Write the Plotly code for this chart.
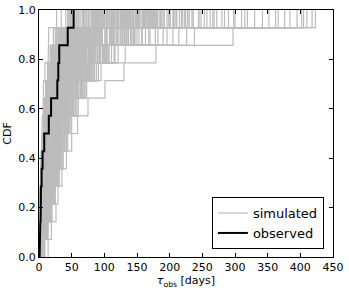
import plotly.graph_objects as go

# Observed durations (days), 14 events
observed = [1, 2, 2.5, 3, 4, 5.5, 8, 15, 18.5, 28, 29.5, 31, 44, 53]

# Simulated realizations (days), 14 events each
simulated = [
    [0, 1, 2, 3, 4, 4, 5, 7, 8, 10, 13, 17, 22, 34],
    [1, 1, 2, 3, 4, 5, 6, 8, 10, 12, 15, 20, 27, 45],
    [0, 1, 2, 4, 5, 6, 7, 9, 11, 14, 17, 23, 31, 52],
    [1, 2, 3, 4, 5, 7, 8, 10, 12, 16, 20, 26, 35, 61],
    [0, 1, 3, 4, 6, 7, 9, 11, 14, 17, 22, 29, 40, 72],
    [1, 2, 3, 5, 6, 8, 9, 11, 13, 16, 21, 27, 36, 58],
    [1, 2, 3, 5, 6, 8, 10, 12, 15, 19, 24, 31, 44, 80],
    [0, 2, 4, 5, 7, 9, 11, 13, 16, 21, 27, 35, 49, 88],
    [1, 3, 4, 6, 8, 9, 11, 14, 17, 22, 29, 38, 55, 110],
    [1, 2, 4, 6, 8, 10, 12, 15, 18, 23, 29, 38, 52, 94],
    [2, 3, 4, 6, 8, 11, 13, 16, 20, 25, 31, 41, 57, 99],
    [0, 2, 3, 5, 7, 10, 12, 15, 19, 24, 32, 44, 66, 140],
    [1, 3, 5, 7, 9, 11, 14, 17, 21, 27, 34, 45, 61, 108],
    [2, 3, 5, 7, 9, 12, 15, 18, 22, 28, 36, 48, 66, 118],
    [1, 2, 4, 6, 8, 11, 14, 17, 21, 28, 37, 51, 78, 166],
    [2, 4, 5, 8, 10, 13, 16, 19, 24, 30, 38, 50, 70, 125],
    [1, 3, 5, 7, 10, 13, 16, 20, 25, 32, 41, 55, 77, 131],
    [3, 4, 6, 8, 10, 13, 17, 21, 26, 33, 42, 58, 88, 210],
    [2, 4, 6, 8, 11, 14, 17, 21, 26, 33, 43, 57, 80, 142],
    [1, 3, 5, 8, 11, 14, 18, 22, 28, 35, 45, 60, 84, 150],
    [2, 3, 6, 9, 12, 15, 18, 22, 27, 34, 44, 61, 95, 245],
    [3, 4, 7, 9, 12, 15, 19, 23, 29, 37, 47, 63, 88, 158],
    [2, 5, 7, 10, 13, 16, 20, 24, 30, 38, 49, 66, 92, 163],
    [1, 4, 6, 9, 12, 16, 20, 25, 32, 41, 53, 71, 104, 196],
    [3, 5, 8, 10, 14, 17, 22, 26, 33, 42, 54, 72, 101, 175],
    [2, 5, 8, 11, 15, 18, 23, 28, 35, 44, 57, 77, 108, 182],
    [4, 6, 9, 12, 15, 19, 24, 29, 36, 46, 60, 82, 120, 290],
    [3, 5, 8, 12, 16, 20, 25, 30, 37, 47, 61, 82, 115, 190],
    [2, 6, 9, 13, 17, 21, 26, 31, 39, 50, 64, 86, 125, 220],
    [4, 7, 10, 14, 18, 22, 27, 33, 41, 52, 67, 90, 131, 236],
    [3, 6, 10, 14, 19, 24, 29, 35, 44, 56, 72, 97, 142, 268],
    [5, 8, 12, 16, 21, 26, 31, 37, 46, 59, 77, 104, 150, 310],
    [4, 9, 13, 17, 22, 27, 33, 40, 50, 64, 84, 116, 178, 362],
    [6, 10, 14, 18, 23, 29, 35, 42, 52, 67, 88, 121, 190, 395],
    [5, 9, 15, 20, 25, 31, 37, 45, 56, 72, 95, 132, 205, 423],
    [14, 19, 26, 29, 35, 42, 50, 59, 75, 101, 130, 179, 297, 405],
    [0, 0, 1, 1, 2, 3, 4, 5, 6, 7, 9, 14, 15, 27],
    [0, 1, 2, 3, 4, 5, 7, 8, 10, 13, 17, 24, 38, 85],
    [1, 2, 3, 4, 5, 6, 8, 10, 12, 15, 19, 25, 34, 57],
    [0, 1, 2, 3, 5, 6, 8, 10, 13, 17, 23, 33, 54, 128],
    [1, 2, 3, 4, 6, 7, 9, 11, 14, 18, 24, 34, 58, 173],
    [0, 2, 3, 4, 5, 7, 8, 10, 12, 15, 19, 26, 37, 66],
    [1, 2, 4, 5, 6, 8, 10, 12, 15, 19, 25, 33, 47, 86],
    [2, 3, 4, 5, 7, 9, 11, 13, 16, 20, 26, 35, 50, 92],
    [0, 1, 3, 4, 6, 8, 10, 12, 15, 20, 27, 39, 65, 201],
    [1, 2, 3, 5, 7, 9, 11, 14, 17, 22, 28, 37, 51, 90],
    [1, 3, 4, 6, 7, 9, 12, 14, 18, 23, 30, 41, 60, 113],
    [0, 2, 3, 5, 7, 9, 11, 13, 17, 22, 29, 40, 61, 137],
    [2, 3, 5, 6, 8, 10, 12, 15, 19, 24, 31, 41, 57, 96],
    [1, 2, 4, 6, 8, 10, 12, 15, 19, 25, 33, 46, 72, 188],
    [2, 4, 5, 7, 9, 12, 14, 18, 22, 28, 36, 48, 68, 122],
    [1, 3, 5, 7, 9, 11, 14, 17, 21, 27, 35, 47, 70, 148],
    [3, 4, 6, 8, 10, 13, 16, 19, 24, 30, 39, 52, 73, 133],
    [0, 2, 4, 6, 8, 11, 14, 17, 22, 28, 37, 51, 79, 215],
    [2, 4, 6, 8, 11, 13, 16, 20, 25, 31, 40, 53, 74, 129],
    [1, 3, 5, 8, 10, 13, 16, 20, 25, 32, 42, 57, 85, 176],
    [3, 5, 7, 9, 12, 15, 18, 22, 28, 35, 45, 59, 83, 145],
    [2, 4, 6, 9, 12, 15, 19, 23, 29, 37, 49, 67, 103, 262],
    [1, 4, 6, 8, 11, 14, 17, 21, 27, 34, 44, 59, 86, 160],
    [3, 5, 8, 10, 13, 16, 20, 25, 31, 39, 50, 67, 94, 169],
    [2, 5, 7, 10, 13, 17, 21, 26, 33, 42, 55, 75, 112, 228],
    [4, 6, 8, 11, 14, 17, 21, 26, 32, 40, 51, 68, 95, 167],
    [3, 6, 9, 12, 15, 19, 23, 28, 35, 44, 57, 77, 110, 199],
    [2, 5, 8, 11, 15, 19, 24, 29, 36, 46, 60, 81, 118, 257],
    [4, 7, 10, 13, 16, 20, 25, 30, 37, 47, 60, 79, 109, 180],
    [5, 7, 10, 13, 17, 21, 26, 31, 39, 49, 63, 84, 119, 206],
    [3, 6, 10, 14, 18, 22, 27, 33, 41, 52, 68, 92, 136, 248],
    [4, 8, 11, 15, 19, 23, 28, 34, 42, 53, 69, 93, 133, 224],
    [6, 9, 12, 16, 20, 25, 30, 36, 45, 57, 74, 100, 146, 280],
    [5, 9, 13, 17, 22, 27, 32, 39, 48, 61, 79, 107, 157, 330],
    [0, 1, 2, 3, 4, 5, 6, 7, 9, 11, 14, 19, 27, 48],
    [0, 1, 1, 2, 3, 4, 5, 7, 9, 11, 14, 18, 25, 41],
    [1, 1, 2, 3, 4, 5, 6, 8, 10, 12, 16, 21, 30, 53],
    [0, 1, 2, 3, 4, 6, 7, 9, 11, 14, 18, 23, 32, 55],
    [1, 2, 3, 4, 5, 7, 8, 10, 13, 16, 21, 28, 40, 75],
    [0, 1, 2, 4, 5, 6, 8, 10, 12, 15, 20, 27, 41, 98],
    [1, 2, 3, 4, 6, 7, 9, 12, 15, 19, 26, 37, 62, 154],
    [0, 1, 2, 3, 4, 6, 7, 9, 12, 16, 22, 32, 56, 186],
    [2, 3, 4, 5, 7, 8, 10, 12, 15, 19, 24, 31, 42, 70],
    [1, 2, 3, 5, 6, 8, 10, 12, 15, 18, 23, 30, 41, 68],
    [0, 2, 3, 4, 6, 8, 10, 13, 16, 21, 28, 39, 59, 127],
    [2, 3, 5, 7, 9, 11, 13, 16, 20, 25, 33, 45, 67, 152],
    [1, 3, 4, 6, 8, 11, 13, 16, 20, 26, 34, 46, 69, 139],
    [3, 5, 7, 9, 11, 14, 17, 21, 26, 32, 41, 54, 76, 134],
    [2, 4, 6, 8, 11, 14, 17, 21, 26, 33, 43, 59, 92, 236],
    [4, 6, 9, 12, 15, 18, 22, 27, 34, 43, 56, 76, 114, 272],
    [3, 6, 9, 12, 16, 20, 25, 30, 38, 48, 62, 84, 124, 208],
    [5, 8, 12, 16, 20, 24, 29, 35, 43, 55, 72, 98, 145, 300],
    [4, 7, 11, 15, 19, 24, 29, 36, 45, 58, 76, 104, 158, 352],
    [6, 10, 14, 18, 23, 28, 34, 41, 51, 65, 85, 116, 170, 230],
    [1, 2, 3, 4, 6, 7, 9, 11, 13, 17, 21, 28, 39, 63],
    [0, 1, 3, 4, 5, 7, 9, 11, 14, 18, 23, 31, 45, 83],
    [1, 2, 4, 5, 7, 9, 11, 13, 16, 20, 26, 34, 48, 91],
    [2, 3, 4, 6, 7, 9, 11, 14, 17, 21, 27, 36, 51, 105],
    [1, 2, 3, 5, 7, 8, 10, 13, 16, 20, 26, 35, 50, 116],
    [0, 2, 3, 5, 6, 8, 10, 12, 15, 19, 24, 32, 46, 101],
    [1, 3, 4, 6, 8, 10, 12, 15, 18, 23, 30, 40, 56, 107],
    [2, 3, 5, 7, 9, 11, 13, 16, 20, 25, 32, 43, 62, 120],
    [1, 2, 4, 6, 8, 10, 13, 16, 20, 26, 34, 45, 64, 126],
    [2, 4, 5, 7, 9, 12, 15, 18, 22, 27, 35, 46, 64, 112],
    [1, 3, 5, 7, 9, 12, 15, 18, 23, 29, 37, 50, 71, 135],
    [3, 4, 6, 8, 10, 12, 15, 18, 22, 28, 36, 48, 69, 143],
    [2, 4, 6, 8, 10, 13, 16, 20, 25, 31, 40, 54, 76, 147],
    [1, 3, 5, 7, 10, 13, 16, 19, 24, 31, 40, 53, 74, 151],
    [3, 5, 7, 9, 11, 14, 17, 21, 26, 33, 42, 56, 79, 156],
    [2, 4, 6, 9, 11, 14, 18, 22, 27, 34, 44, 58, 81, 161],
    [3, 5, 7, 10, 13, 16, 19, 23, 29, 36, 46, 62, 87, 164],
    [2, 5, 7, 10, 13, 16, 20, 24, 29, 37, 48, 64, 90, 171],
    [4, 6, 8, 10, 13, 16, 20, 24, 30, 38, 49, 65, 91, 174],
    [3, 5, 8, 11, 14, 17, 21, 25, 31, 39, 50, 66, 93, 178],
    [1, 2, 3, 4, 5, 6, 8, 9, 11, 14, 18, 24, 33, 50],
    [0, 1, 2, 3, 4, 6, 7, 8, 10, 13, 16, 21, 29, 44],
    [1, 2, 3, 4, 5, 7, 8, 10, 12, 14, 18, 23, 31, 47],
    [0, 1, 2, 4, 5, 6, 8, 9, 11, 14, 18, 24, 34, 60],
    [1, 2, 3, 4, 6, 7, 9, 10, 13, 16, 20, 27, 38, 67],
    [1, 2, 4, 5, 6, 8, 10, 12, 14, 18, 23, 30, 42, 73],
    [0, 2, 3, 4, 6, 7, 9, 11, 14, 17, 22, 29, 41, 76],
    [1, 2, 3, 5, 6, 8, 10, 12, 15, 18, 23, 31, 43, 78],
    [2, 3, 4, 6, 7, 9, 11, 13, 16, 20, 26, 34, 48, 84],
    [1, 2, 4, 5, 7, 9, 11, 13, 16, 21, 27, 36, 52, 87],
    [2, 3, 5, 6, 8, 10, 12, 14, 18, 22, 28, 38, 54, 93],
    [1, 3, 4, 6, 8, 10, 12, 15, 19, 24, 31, 42, 60, 100],
    [2, 4, 5, 7, 9, 11, 13, 16, 20, 25, 32, 43, 61, 103],
    [3, 4, 6, 8, 10, 12, 14, 17, 21, 26, 33, 44, 63, 114],
    [2, 4, 6, 8, 10, 13, 16, 19, 23, 29, 37, 49, 68, 119],
    [4, 5, 7, 9, 11, 14, 17, 20, 25, 31, 40, 53, 73, 130],
    [3, 5, 7, 9, 12, 15, 18, 22, 27, 34, 43, 57, 80, 136],
    [4, 6, 8, 11, 14, 17, 20, 24, 30, 37, 47, 62, 85, 144],
    [2, 3, 5, 7, 9, 11, 14, 17, 21, 27, 35, 47, 66, 153],
    [5, 7, 9, 12, 15, 18, 22, 27, 33, 41, 52, 69, 96, 185],
    [3, 5, 7, 10, 13, 16, 19, 23, 28, 36, 45, 58, 80, 121],
    [2, 5, 8, 11, 14, 17, 20, 25, 31, 38, 47, 59, 81, 128],
    [4, 6, 8, 12, 15, 18, 23, 27, 32, 38, 49, 63, 90, 133],
    [3, 6, 9, 11, 14, 19, 22, 26, 34, 41, 51, 66, 87, 138],
    [4, 7, 10, 13, 17, 20, 24, 29, 35, 43, 52, 68, 95, 144],
    [3, 6, 10, 14, 16, 21, 26, 30, 36, 44, 55, 71, 97, 149],
    [5, 7, 11, 13, 18, 22, 25, 31, 37, 46, 57, 73, 101, 153],
    [4, 8, 10, 15, 18, 23, 27, 32, 38, 47, 59, 76, 104, 159],
    [5, 8, 12, 15, 20, 23, 28, 33, 40, 50, 61, 78, 108, 162],
    [4, 9, 12, 16, 19, 24, 29, 34, 42, 50, 63, 81, 111, 168],
    [6, 8, 13, 17, 21, 25, 30, 36, 43, 52, 65, 84, 115, 172],
    [5, 9, 13, 16, 22, 26, 31, 36, 45, 55, 67, 87, 119, 177],
    [6, 10, 14, 18, 22, 27, 32, 38, 46, 56, 69, 89, 121, 181],
    [5, 10, 15, 19, 23, 28, 33, 39, 47, 58, 71, 92, 127, 186],
    [7, 10, 14, 20, 24, 29, 35, 40, 49, 59, 73, 94, 130, 192],
    [6, 11, 16, 19, 25, 30, 35, 42, 50, 61, 75, 97, 134, 199],
    [7, 11, 15, 21, 26, 31, 37, 43, 52, 64, 77, 99, 137, 205],
    [6, 12, 17, 22, 27, 32, 38, 44, 53, 65, 80, 102, 140, 211],
    [8, 12, 16, 21, 28, 33, 39, 46, 55, 67, 82, 104, 144, 218],
    [7, 13, 18, 23, 28, 34, 40, 47, 56, 69, 85, 107, 147, 223],
    [9, 13, 19, 24, 30, 36, 42, 49, 58, 70, 88, 111, 153, 234],
    [8, 14, 20, 25, 31, 37, 44, 50, 60, 73, 91, 115, 163, 244],
    [2, 3, 5, 7, 8, 10, 13, 15, 18, 23, 28, 37, 49, 82],
    [2, 4, 5, 7, 9, 12, 14, 17, 21, 25, 32, 41, 56, 89],
    [3, 4, 6, 8, 10, 13, 15, 18, 23, 28, 35, 45, 61, 97],
    [3, 4, 7, 9, 11, 14, 17, 20, 25, 30, 37, 49, 66, 104],
    [3, 5, 7, 9, 12, 15, 18, 22, 26, 33, 41, 53, 72, 111],
    [4, 5, 8, 10, 13, 16, 19, 23, 28, 35, 43, 56, 75, 116],
    [2, 5, 7, 10, 12, 15, 19, 23, 29, 36, 45, 59, 79, 124],
    [4, 6, 8, 11, 14, 17, 21, 25, 30, 37, 47, 61, 84, 132],
    [2, 4, 6, 8, 11, 14, 17, 21, 26, 33, 43, 57, 85, 315],
    [1, 3, 5, 7, 9, 12, 15, 19, 24, 30, 39, 52, 76, 284],
    [3, 5, 7, 10, 13, 16, 20, 25, 31, 39, 50, 66, 168, 342],
    [2, 4, 7, 9, 12, 15, 19, 23, 29, 36, 47, 62, 96, 376],
    [1, 3, 4, 6, 9, 11, 14, 18, 23, 29, 38, 50, 74, 253],
    [4, 6, 9, 12, 15, 19, 23, 28, 34, 43, 55, 73, 182, 410],
    [2, 5, 7, 10, 13, 16, 20, 24, 30, 38, 49, 65, 214, 298],
    [3, 5, 8, 11, 14, 18, 22, 27, 33, 41, 53, 70, 112, 366],
    [1, 2, 4, 6, 8, 10, 13, 16, 20, 26, 34, 46, 70, 227],
    [3, 6, 8, 11, 15, 18, 23, 28, 34, 42, 54, 71, 238, 402],
    [2, 4, 6, 9, 11, 14, 18, 22, 27, 35, 45, 60, 92, 319],
    [4, 7, 10, 13, 17, 21, 25, 31, 38, 48, 61, 80, 196, 384],
    [1, 3, 5, 7, 10, 12, 16, 19, 24, 31, 40, 54, 128, 266],
    [2, 5, 8, 11, 14, 17, 21, 26, 32, 40, 52, 69, 226, 418],
]

x_ticks = [0, 50, 100, 150, 200, 250, 300, 350, 400, 450]
y_ticks = [0.0, 0.2, 0.4, 0.6, 0.8, 1.0]


def ecdf_path(values):
    """Empirical CDF as an explicit staircase path."""
    v = sorted(values)
    n = len(v)
    xs, ys = [], []
    for i, val in enumerate(v):
        xs += [val, val]
        ys += [i / n, (i + 1) / n]
    return xs, ys


sim_x, sim_y = [], []
for r in simulated:
    xs, ys = ecdf_path(r)
    sim_x += xs + [None]
    sim_y += ys + [None]

obs_x, obs_y = ecdf_path(observed)

fig = go.Figure()
fig.add_trace(go.Scatter(
    x=sim_x, y=sim_y, mode="lines", name="simulated",
    line=dict(color="#bcbcbc", width=1.2), connectgaps=False,
))
fig.add_trace(go.Scatter(
    x=obs_x, y=obs_y, mode="lines", name="observed",
    line=dict(color="black", width=2),
))

font = "DejaVu Sans, Arial, sans-serif"
fig.update_layout(
    width=349, height=292,
    margin=dict(l=39, r=16, t=10, b=35, autoexpand=False),
    paper_bgcolor="white", plot_bgcolor="white",
    font=dict(family=font, size=11, color="black"),
    showlegend=True,
    legend=dict(
        x=0.969, y=0.032, xanchor="right", yanchor="bottom",
        bordercolor="black", borderwidth=1, bgcolor="white",
        font=dict(size=13), tracegroupgap=0,
    ),
    xaxis=dict(
        range=[0, 450], tickvals=x_ticks, ticktext=[str(t) for t in x_ticks],
        ticks="inside", ticklen=4, tickcolor="black", mirror="ticks",
        showline=True, linecolor="black", linewidth=1, showgrid=False,
        zeroline=False, automargin=False,
        title=dict(text="<i>τ</i><sub>obs</sub> [days]", standoff=3, font=dict(size=11)),
    ),
    yaxis=dict(
        range=[0, 1], tickvals=y_ticks, ticktext=[f"{t:.1f}" for t in y_ticks],
        ticks="inside", ticklen=4, tickcolor="black", mirror="ticks",
        showline=True, linecolor="black", linewidth=1, showgrid=False,
        zeroline=False, automargin=False,
        title=dict(text="CDF", standoff=4, font=dict(size=11)),
    ),
)

fig.write_html(
    "out.html",
    config={"displayModeBar": False},
    post_script="document.body.style.margin='0';",
)
